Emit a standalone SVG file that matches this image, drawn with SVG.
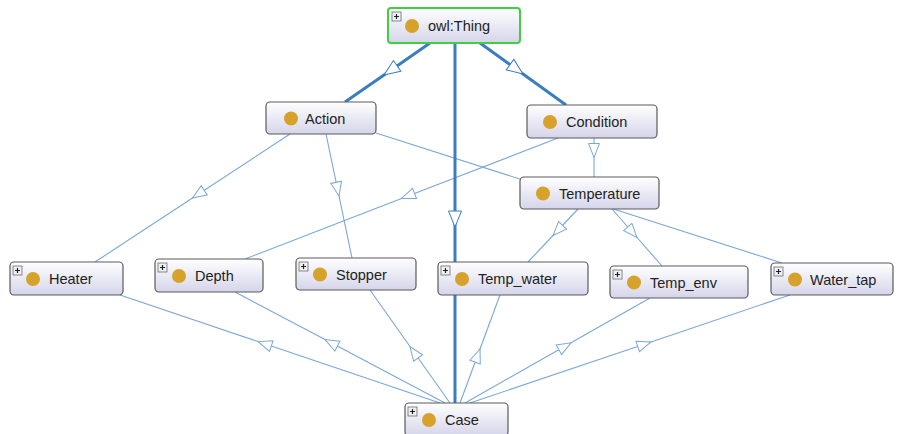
<svg xmlns="http://www.w3.org/2000/svg" width="898" height="434" viewBox="0 0 898 434">
<style>
.bg{fill:#ffffff}
.e{fill:none;stroke:#7aa7d6;stroke-width:1.1;marker-mid:url(#ah)}
.t{fill:none;stroke:#3a7dc0;stroke-width:3;marker-mid:url(#ahT)}
.box{fill:url(#g);stroke:#5a5a5a;stroke-width:1.2}
.root{fill:url(#g);stroke:#3fcf3f;stroke-width:2}
.dot{fill:#d6a22c}
.lbl{font-family:"Liberation Sans",Arial,sans-serif;font-size:14.5px;fill:#222}
.pb{fill:#eef0f6;stroke:#6b6b6b;stroke-width:0.8}
.pl{stroke:#222;stroke-width:1.2}
</style>
<defs>
<linearGradient id="g" x1="0" y1="0" x2="0" y2="1">
<stop offset="0" stop-color="#ffffff"/>
<stop offset="1" stop-color="#d5d5ea"/>
</linearGradient>
<marker id="ah" markerUnits="userSpaceOnUse" markerWidth="18" markerHeight="14" refX="15" refY="6.5" orient="auto" viewBox="0 0 18 14">
<path d="M1,1 L15,6.5 L1,12 z" fill="#ffffff" stroke="#7aa7d6" stroke-width="1"/>
</marker>
<marker id="ahT" markerUnits="userSpaceOnUse" markerWidth="20" markerHeight="16" refX="17" refY="7.5" orient="auto" viewBox="0 0 20 16">
<path d="M1,1 L17,7.5 L1,14 z" fill="#ffffff" stroke="#3a7dc0" stroke-width="1"/>
</marker>
<g id="plus">
<rect class="pb" x="0" y="0" width="9" height="9"/>
<path class="pl" d="M2,4.5 H7 M4.5,2 V7"/>
</g>
</defs>
<rect class="bg" x="0" y="0" width="898" height="434"/>
<g id="connectors">
<path class="e" d="M594,138 L594,157.5 L594,177"/>
<path class="e" d="M290,134 L192.5,198 L95,262"/>
<path class="e" d="M326,134 L339,196 L352,258"/>
<path class="e" d="M558,138 L401.5,198.5 L245,259"/>
<path class="e" d="M376,133 L579,198 L782,263"/>
<path class="e" d="M578,209 L553,235.5 L528,262"/>
<path class="e" d="M612,209 L637,237.5 L662,266"/>
<path class="e" d="M440,403 L258,341.6 L120,295"/>
<path class="e" d="M445,403 L325,339.6 L235,292"/>
<path class="e" d="M450,403 L410,346.5 L370,290"/>
<path class="e" d="M460,403 L480,349 L500,295"/>
<path class="e" d="M465,403 L571,342.8 L650,298"/>
<path class="e" d="M470,403 L651,341.9 L790,295"/>
<path class="t" d="M430,43 L384,75 L345,102"/>
<path class="t" d="M480,43 L523,74 L566,105"/>
<path class="t" d="M455,43 L455,227 L455,403"/>
</g>
<g id="owl-thing">
<rect class="root" x="388" y="8" width="132" height="35" rx="3"/>
<use href="#plus" x="392" y="12"/>
<circle class="dot" cx="412" cy="26" r="7"/>
<text class="lbl" x="428" y="31">owl:Thing</text>
</g>
<g id="action">
<rect class="box" x="266" y="102" width="110" height="32" rx="4"/>
<circle class="dot" cx="291" cy="118.5" r="7"/>
<text class="lbl" x="305" y="123.5">Action</text>
</g>
<g id="condition">
<rect class="box" x="527" y="105" width="130" height="33" rx="4"/>
<circle class="dot" cx="550" cy="122" r="7"/>
<text class="lbl" x="566" y="127">Condition</text>
</g>
<g id="temperature">
<rect class="box" x="520" y="177" width="139" height="32" rx="4"/>
<circle class="dot" cx="543" cy="193.5" r="7"/>
<text class="lbl" x="559" y="198.5">Temperature</text>
</g>
<g id="heater">
<rect class="box" x="10" y="262" width="113" height="33" rx="4"/>
<use href="#plus" x="13" y="266"/>
<circle class="dot" cx="33" cy="279" r="7"/>
<text class="lbl" x="49" y="284">Heater</text>
</g>
<g id="depth">
<rect class="box" x="155" y="259" width="108" height="33" rx="4"/>
<use href="#plus" x="158" y="263"/>
<circle class="dot" cx="179" cy="276" r="7"/>
<text class="lbl" x="195" y="281">Depth</text>
</g>
<g id="stopper">
<rect class="box" x="296" y="258" width="120" height="32" rx="4"/>
<use href="#plus" x="299" y="262"/>
<circle class="dot" cx="320" cy="274.5" r="7"/>
<text class="lbl" x="336" y="279.5">Stopper</text>
</g>
<g id="temp-water">
<rect class="box" x="438" y="262" width="150" height="33" rx="4"/>
<use href="#plus" x="441" y="266"/>
<circle class="dot" cx="462" cy="279" r="7"/>
<text class="lbl" x="478" y="284">Temp_water</text>
</g>
<g id="temp-env">
<rect class="box" x="610" y="266" width="138" height="32" rx="4"/>
<use href="#plus" x="613" y="270"/>
<circle class="dot" cx="634" cy="282.5" r="7"/>
<text class="lbl" x="650" y="287.5">Temp_env</text>
</g>
<g id="water-tap">
<rect class="box" x="771" y="263" width="122" height="32" rx="4"/>
<use href="#plus" x="774" y="267"/>
<circle class="dot" cx="795" cy="279.5" r="7"/>
<text class="lbl" x="810" y="284.5">Water_tap</text>
</g>
<g id="case">
<rect class="box" x="405" y="403" width="103" height="33" rx="4"/>
<use href="#plus" x="408" y="407"/>
<circle class="dot" cx="429" cy="420" r="7"/>
<text class="lbl" x="445" y="425">Case</text>
</g>
</svg>
